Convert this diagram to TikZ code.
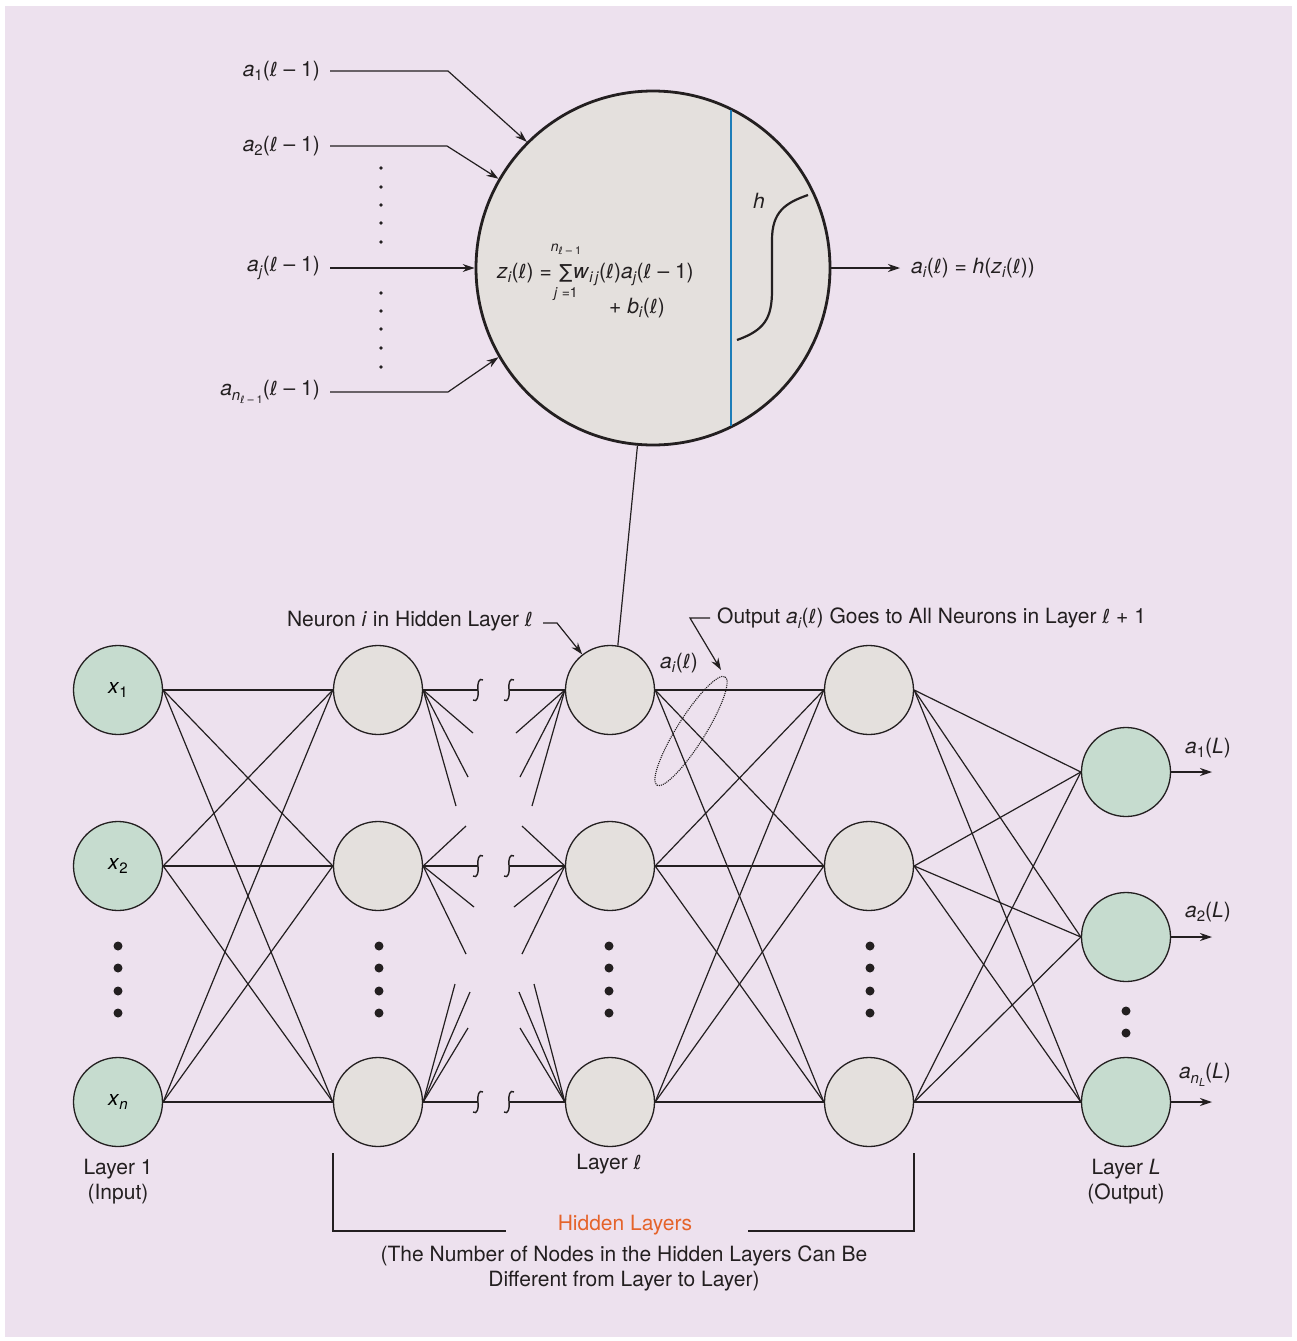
\documentclass[tikz,border=0pt]{standalone}
\usepackage{fontspec}
\setmainfont{TeX Gyre Heros}
\newfontfamily\dejavu[Scale=0.92]{DejaVu Sans}
\usetikzlibrary{arrows.meta}
\definecolor{bgl}{RGB}{237,225,238}
\definecolor{ngray}{RGB}{228,224,221}
\definecolor{ngreen}{RGB}{198,220,207}
\definecolor{cblue}{RGB}{28,125,184}
\definecolor{corange}{RGB}{229,99,42}
\definecolor{txt}{RGB}{35,31,32}
\newcommand\ellc{{\dejavu ℓ}}
\newcommand\lsub[1]{\raisebox{-0.22em}{\fontsize{15}{17}\selectfont #1}}
\newcommand\lsubs[1]{\raisebox{-0.22em}{\fontsize{11}{13}\selectfont #1}}
\newcommand\vi[1]{\textit{#1}}
\begin{document}
\begin{tikzpicture}[x=1pt,y=-1pt,
  lbl/.style={font=\fontsize{21}{25}\selectfont, text=txt, inner sep=0pt},
  small/.style={font=\fontsize{14}{16}\selectfont, text=txt, inner sep=0pt},
  hid/.style={circle, draw=txt, line width=1.3pt, fill=ngray, minimum size=89pt, inner sep=0pt, font=\fontsize{21}{25}\selectfont},
  io/.style={hid, fill=ngreen},
  conn/.style={draw=txt, line width=1.2pt},
  arr/.style={conn, -{Stealth[length=12pt,width=8pt]}},
  dotb/.style={fill=txt, draw=none},
  brk/.pic={\draw[txt, line width=1.4pt] (5,-10) .. controls (1,-13) and (-1,-6) .. (0,0) .. controls (1,6) and (-1,13) .. (-5,10);}
]
\useasboundingbox (0,0) rectangle (1297,1341);
\fill[white] (0,0) rectangle (1297,1341);
\fill[bgl] (5,6) rectangle (1292,1337);

% ---------- big neuron ----------
\node[circle, draw=txt, line width=2.8pt, fill=ngray, minimum size=354pt, inner sep=0pt] (big) at (653,268) {};
\draw[cblue, line width=2.6pt] (731,110) -- (731,426);
\draw[txt, line width=2.2pt] (737,340) .. controls (765,330) and (772,318) .. (772,290) -- (772,240) .. controls (772,212) and (785,203) .. (808,195);
\node[lbl, anchor=base] (hlab) at (759,208) {\vi{h}};

\node[lbl, anchor=base east] (fz) at (552,278) {\vi{z}\lsub{\vi{i}}(\ellc) =};
\node[lbl, anchor=base] (fsum) at (566,278) {{\dejavu ∑}};
\node[lbl, anchor=base west] (fw) at (573,278) {\vi{w}\lsub{\vi{i\,j}}(\ellc)\vi{a}\lsub{\vi{j}}(\ellc{} – 1)};
\node[small, anchor=base] (fup) at (566,251) {\vi{n}\lsubs{\ellc{} – 1}};
\node[small, anchor=base] (flo) at (566,297) {\vi{j} =1};
\node[lbl, anchor=base] (fb) at (637,313) {+ \vi{b}\lsub{\vi{i}}(\ellc)};

% inputs
\node[lbl, anchor=east] (in1) at (320,71) {\vi{a}\lsub{1}(\ellc{} – 1)};
\node[lbl, anchor=east] (in2) at (320,146) {\vi{a}\lsub{2}(\ellc{} – 1)};
\node[lbl, anchor=east] (inj) at (320,268) {\vi{a}\lsub{\vi{j}}(\ellc{} – 1)};
\node[lbl, anchor=east] (inn) at (320,392) {\vi{a}\lsub{\vi{n}\lsubs{\ellc{} – 1}}(\ellc{} – 1)};
\coordinate (k1) at (448,71);
\coordinate (k2) at (447,146);
\coordinate (kn) at (448,392);
\draw[arr] ([xshift=10pt]in1.east) -- (k1) -- (big.135);
\draw[arr] ([xshift=10pt]in2.east) -- (k2) -- (big.150);
\draw[arr] ([xshift=10pt]inj.east) -- (big.180);
\draw[arr] ([xshift=10pt]inn.east) -- (kn) -- (big.210);
\foreach \yy in {168,187,205,223,242,293,311,329,348,367}
  \fill[dotb] (381,\yy) circle (1.8);

% output
\coordinate (oend) at (900,268);
\draw[arr] (big.east) -- (oend);
\node[lbl, anchor=west] (outlab) at (911,268) {\vi{a}\lsub{\vi{i}}(\ellc) = \vi{h}(\vi{z}\lsub{\vi{i}}(\ellc))};

% ---------- network ----------
\node[io] (x1) at (118,690) {\vi{x}\lsub{1}};
\node[io] (x2) at (118,866) {\vi{x}\lsub{2}};
\node[io] (xn) at (118,1102) {\vi{x}\lsub{\vi{n}}};
\node[hid] (h1) at (378,690) {};
\node[hid] (h2) at (378,866) {};
\node[hid] (h3) at (378,1102) {};
\node[hid] (l1) at (610,690) {};
\node[hid] (l2) at (610,866) {};
\node[hid] (l3) at (610,1102) {};
\node[hid] (m1) at (869,690) {};
\node[hid] (m2) at (869,866) {};
\node[hid] (m3) at (869,1102) {};
\node[io] (o1) at (1126,772) {};
\node[io] (o2) at (1126,937) {};
\node[io] (o3) at (1126,1102) {};

\foreach \a in {x1,x2,xn} \foreach \b in {h1,h2,h3} \draw[conn] (\a.east) -- (\b.west);
\foreach \a in {l1,l2,l3} \foreach \b in {m1,m2,m3} \draw[conn] (\a.east) -- (\b.west);
\foreach \a in {m1,m2,m3} \foreach \b in {o1,o2,o3} \draw[conn] (\a.east) -- (\b.west);

% link big neuron to neuron i
\draw[conn] (big.265) -- (l1.80);

% stubs out of h-layer
\coordinate (sa1) at (473,733); \coordinate (sa2) at (468,777); \coordinate (sa3) at (456,806);
\coordinate (sb1) at (466,826); \coordinate (sb2) at (474,907); \coordinate (sb3) at (466,954);
\coordinate (sc1) at (455,984); \coordinate (sc2) at (470,992); \coordinate (sc3) at (468,1028);
\foreach \c in {sa1,sa2,sa3} \draw[conn] (h1.east) -- (\c);
\foreach \c in {sb1,sb2,sb3} \draw[conn] (h2.east) -- (\c);
\foreach \c in {sc1,sc2,sc3} \draw[conn] (h3.east) -- (\c);
% stubs into layer l
\coordinate (ta1) at (516,733); \coordinate (ta2) at (520,777); \coordinate (ta3) at (532,806);
\coordinate (tb1) at (522,826); \coordinate (tb2) at (514,907); \coordinate (tb3) at (522,954);
\coordinate (tc1) at (534,984); \coordinate (tc2) at (519,992); \coordinate (tc3) at (520,1028);
\foreach \c in {ta1,ta2,ta3} \draw[conn] (\c) -- (l1.west);
\foreach \c in {tb1,tb2,tb3} \draw[conn] (\c) -- (l2.west);
\foreach \c in {tc1,tc2,tc3} \draw[conn] (\c) -- (l3.west);
% horizontal lines with breaks
\foreach \r/\yy in {1/690,2/866,3/1102}{
  \coordinate (bl\r) at (478,\yy);
  \coordinate (br\r) at (509,\yy);
}
\draw[conn] (h1.east) -- (bl1); \draw[conn] (br1) -- (l1.west);
\draw[conn] (h2.east) -- (bl2); \draw[conn] (br2) -- (l2.west);
\draw[conn] (h3.east) -- (bl3); \draw[conn] (br3) -- (l3.west);
\foreach \r in {1,2,3}{ \pic at (bl\r) {brk}; \pic at (br\r) {brk}; }

% vertical dots
\foreach \xx in {118,379,609,870}
  \foreach \yy in {946,968,991,1013}
    \fill[dotb] (\xx,\yy) circle (4.5);
\fill[dotb] (1126,1011) circle (4.5);
\fill[dotb] (1126,1033) circle (4.5);

% output arrows
\coordinate (e1) at (1212,772); \coordinate (e2) at (1212,937); \coordinate (e3) at (1212,1102);
\draw[arr] (o1.east) -- (e1);
\draw[arr] (o2.east) -- (e2);
\draw[arr] (o3.east) -- (e3);
\node[lbl, anchor=east] (ol1) at (1231,748) {\vi{a}\lsub{1}(\vi{L})};
\node[lbl, anchor=east] (ol2) at (1231,912) {\vi{a}\lsub{2}(\vi{L})};
\node[lbl, anchor=east] (ol3) at (1231,1075) {\vi{a}\lsub{\vi{n}\lsubs{\vi{L}}}(\vi{L})};

% dotted ellipse and a_i label
\draw[txt, line width=1.1pt, densely dotted, rotate around={57.8:(691,731)}] (691,731) ellipse [x radius=64, y radius=14];
\node[lbl, anchor=center] (ailab) at (679,663) {\vi{a}\lsub{\vi{i}}(\ellc)};

% annotations
\node[lbl, anchor=east] (neu) at (533,621) {Neuron \vi{i} in Hidden Layer \ellc};
\coordinate (nk0) at (543,623); \coordinate (nk1) at (557,623);
\draw[arr] (nk0) -- (nk1) -- (l1.128);
\node[lbl, anchor=west] (outa) at (717,618) {Output \vi{a}\lsub{\vi{i}}(\ellc) Goes to All Neurons in Layer \ellc{} + 1};
\coordinate (ok0) at (710,618); \coordinate (ok1) at (690,618); \coordinate (ok2) at (721,670);
\draw[arr] (ok0) -- (ok1) -- (ok2);

% bottom labels
\node[lbl, align=center] (lay1) at (118,1182) {Layer 1\\(Input)};
\node[lbl] (layl) at (609,1164) {Layer \ellc};
\node[lbl, align=center] (layL) at (1126,1182) {Layer \vi{L}\\(Output)};
\draw[conn] (333,1153) -- (333,1231) -- (506,1231);
\draw[conn] (748,1231) -- (914,1231) -- (914,1153);
\node[lbl, text=corange] (hidl) at (625,1225) {Hidden Layers};
\node[lbl, align=center] (note) at (624,1268) {(The Number of Nodes in the Hidden Layers Can Be\\Different from Layer to Layer)};
\end{tikzpicture}
\end{document}
